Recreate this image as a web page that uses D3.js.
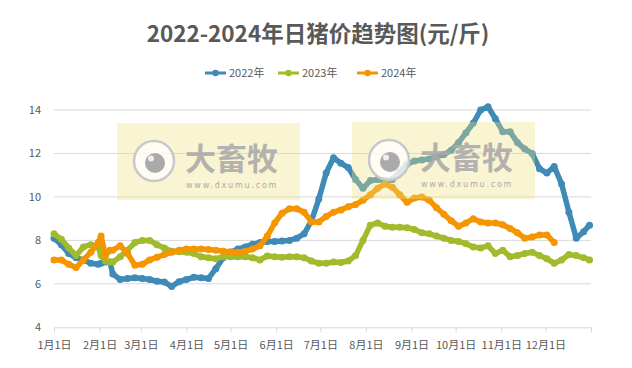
<!DOCTYPE html>
<html>
<head>
<meta charset="utf-8">
<script src="https://cdn.jsdelivr.net/npm/d3@7"></script>
<style>
  body { margin: 0; background: #fff; }
  svg { display: block; font-family: "Noto Sans CJK SC", "Open Sans", sans-serif; }
</style>
</head>
<body>
<div class="chart"></div>
<script>
// day of year (0 = 1月1日) for each reading
const days = [0,5,10,15,20,25,30,32,35,38,40,45,50,55,60,65,70,75,80,85,90,95,100,105,110,115,120,125,130,135,140,145,150,155,160,165,170,175,180,185,190,195,200,205,210,215,220,225,230,235,240,245,250,255,260,265,270,275,280,285,290,295,300,305,310,315,320,325,330,335,340,345,350,355,360,364];

const price2022 = [8.1,7.8,7.4,7.2,7.1,6.95,6.9,6.95,7.0,7.0,6.45,6.2,6.25,6.28,6.25,6.2,6.12,6.08,5.88,6.1,6.2,6.3,6.28,6.25,6.7,7.2,7.45,7.6,7.7,7.82,7.9,7.95,7.95,7.97,8.0,8.1,8.3,8.9,9.9,11.1,11.8,11.55,11.35,10.8,10.4,10.75,10.8,10.75,10.8,11.15,11.5,11.65,11.7,11.75,11.85,11.95,12.15,12.5,12.95,13.4,14.0,14.15,13.6,13.0,13.0,12.5,12.2,12.0,11.3,11.1,11.4,10.6,9.3,8.1,8.4,8.7];

const price2023 = [8.3,8.05,7.65,7.3,7.7,7.8,7.7,7.3,7.05,7.0,7.0,7.25,7.55,7.9,8.0,8.0,7.8,7.65,7.5,7.48,7.45,7.4,7.25,7.2,7.15,7.25,7.25,7.25,7.25,7.2,7.1,7.28,7.25,7.22,7.25,7.25,7.2,7.05,6.95,6.95,7.0,6.98,7.05,7.3,8.0,8.7,8.8,8.65,8.6,8.6,8.58,8.5,8.35,8.3,8.2,8.1,8.0,7.95,7.85,7.7,7.65,7.75,7.4,7.55,7.25,7.3,7.4,7.45,7.3,7.15,6.95,7.1,7.35,7.3,7.2,7.1];

const price2024 = [7.1,7.1,6.9,6.75,7.1,7.45,7.9,8.2,7.3,7.55,7.55,7.75,7.4,6.85,6.9,7.1,7.22,7.35,7.45,7.55,7.6,7.6,7.6,7.58,7.55,7.5,7.48,7.45,7.5,7.6,7.75,8.2,8.8,9.25,9.45,9.45,9.3,8.85,8.85,9.1,9.3,9.4,9.55,9.65,9.85,10.1,10.4,10.6,10.45,10.1,9.75,9.95,10.0,9.85,9.5,9.2,8.9,8.65,8.8,9.0,8.85,8.8,8.8,8.72,8.55,8.35,8.1,8.15,8.25,8.25,7.9,null,null,null,null,null];

const seriesNames = ['2022年', '2023年', '2024年'];
const seriesColors = ['#3f8ab6', '#a0bb2c', '#f59500'];

const monthStarts = [0,31,59,90,120,151,181,212,243,273,304,334];
const monthLabels = ['1月1日','2月1日','3月1日','4月1日','5月1日','6月1日','7月1日','8月1日','9月1日','10月1日','11月1日','12月1日'];
const yTicks = [4,6,8,10,12,14];

const textColor = '#595959';
const gridColor = '#d9d9d9';

const svg = d3.select('div.chart').append('svg')
    .attr('width', 632)
    .attr('height', 368);

const x = d3.scaleLinear().domain([0, 365]).range([54, 591]);
const y = d3.scaleLinear().domain([4, 14]).range([327.3, 110]);

// title
svg.append('text')
    .attr('x', 318).attr('y', 42)
    .attr('text-anchor', 'middle')
    .attr('font-size', 22.5).attr('font-weight', 'bold')
    .attr('fill', textColor)
    .text('2022-2024年日猪价趋势图(元/斤)');

// legend
const legendX = [205, 278, 357];
seriesNames.forEach((name, i) => {
    const lg = svg.append('g').attr('transform', `translate(${legendX[i]},73)`);
    lg.append('line').attr('x1', 0).attr('x2', 21).attr('y1', 0).attr('y2', 0)
        .attr('stroke', seriesColors[i]).attr('stroke-width', 3);
    lg.append('circle').attr('cx', 10.5).attr('cy', 0).attr('r', 3.2).attr('fill', seriesColors[i]);
    lg.append('text').attr('x', 24).attr('y', 4)
        .attr('font-size', 11).attr('fill', textColor).text(name);
});

// gridlines + y labels
svg.append('g').selectAll('line')
    .data(yTicks.filter(v => v > 4))
    .enter().append('line')
    .attr('x1', 54).attr('x2', 591)
    .attr('y1', d => y(d)).attr('y2', d => y(d))
    .attr('stroke', gridColor).attr('stroke-width', 1);

svg.append('g').selectAll('text')
    .data(yTicks)
    .enter().append('text')
    .attr('x', 41).attr('y', d => y(d) + 4)
    .attr('text-anchor', 'end')
    .attr('font-size', 11).attr('fill', textColor)
    .text(d => d);

// x axis
const xAxis = svg.append('g')
    .attr('transform', `translate(0,${y(4)})`)
    .call(d3.axisBottom(x)
        .tickValues(monthStarts.concat([365]))
        .tickSize(5)
        .tickPadding(9)
        .tickFormat((d, i) => monthLabels[i] || ''));
xAxis.select('.domain').attr('stroke', gridColor);
xAxis.selectAll('.tick line').attr('stroke', gridColor);
xAxis.selectAll('.tick text')
    .attr('font-size', 11).attr('fill', textColor)
    .attr('font-family', '"Noto Sans CJK SC", sans-serif');

// lines
const allSeries = [price2022, price2023, price2024];
const line = d3.line()
    .defined(d => d[1] != null)
    .x(d => x(d[0]))
    .y(d => y(d[1]));

allSeries.forEach((vals, i) => {
    const pts = days.map((d, j) => [d, vals[j]]);
    const g = svg.append('g');
    g.append('path')
        .attr('d', line(pts))
        .attr('fill', 'none')
        .attr('stroke', seriesColors[i])
        .attr('stroke-width', 5.5)
        .attr('stroke-linejoin', 'round')
        .attr('stroke-linecap', 'round');
    g.selectAll('circle')
        .data(pts.filter(p => p[1] != null))
        .enter().append('circle')
        .attr('cx', p => x(p[0]))
        .attr('cy', p => y(p[1]))
        .attr('r', 3.5)
        .attr('fill', seriesColors[i]);
});

// watermarks (sit above the lines)
function watermark(left, top) {
    const w = svg.append('g').attr('transform', `translate(${left},${top})`);
    w.append('rect').attr('width', 183).attr('height', 77)
        .attr('fill', '#ede07a').attr('opacity', 0.35);
    w.append('circle').attr('cx', 37).attr('cy', 38).attr('r', 20)
        .attr('fill', '#fff').attr('fill-opacity', 0.75)
        .attr('stroke', '#c8c8c8').attr('stroke-width', 2.5);
    w.append('circle').attr('cx', 38).attr('cy', 40).attr('r', 10).attr('fill', '#aaa');
    w.append('circle').attr('cx', 34).attr('cy', 35.5).attr('r', 3).attr('fill', '#eee');
    w.append('text').attr('x', 68).attr('y', 47)
        .attr('font-size', 31).attr('font-weight', 'bold')
        .attr('fill', '#a9a9a9').attr('fill-opacity', 0.9)
        .text('大畜牧');
    w.append('text').attr('x', 69).attr('y', 64.5)
        .attr('font-size', 8).attr('letter-spacing', 1.8)
        .attr('fill', '#aaa')
        .attr('font-family', '"DejaVu Sans", sans-serif')
        .text('www.dxumu.com');
}
watermark(117, 123);
watermark(352, 122);
</script>
</body>
</html>
